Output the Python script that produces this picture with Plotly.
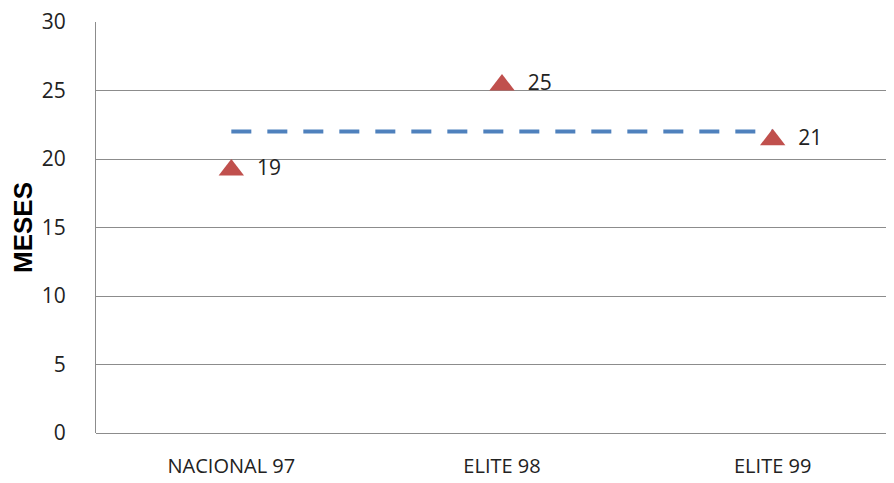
import plotly.graph_objects as go

categories = ["NACIONAL 97", "ELITE 98", "ELITE 99"]
values = [19.2, 25.4, 21.4]
labels = ["19", "25", "21"]
average = [22.0, 22.0, 22.0]
y_ticks = [0, 5, 10, 15, 20, 25, 30]

x_idx = list(range(len(categories)))

fig = go.Figure()
fig.add_trace(go.Scatter(
    x=x_idx, y=average, mode="lines",
    line=dict(color="#4F81BD", width=4, dash="20px,16px"),
    hoverinfo="skip", showlegend=False,
))
fig.add_trace(go.Scatter(
    x=x_idx, y=values, mode="markers+text",
    marker=dict(symbol="triangle-up", size=22, color="#C0504D"),
    text=["  " + t for t in labels], textposition="middle right",
    textfont=dict(family="Open Sans, sans-serif", size=21, color="#222222"),
    showlegend=False,
))

# page body has an 8px margin; the figure is offset accordingly
fig.update_layout(
    width=900, height=475,
    margin=dict(l=88, r=0, t=14, b=50),
    paper_bgcolor="white", plot_bgcolor="white",
    font=dict(family="Open Sans, sans-serif", color="#222222"),
)
fig.update_xaxes(
    range=[-0.5, 2.5], automargin=False,
    tickmode="array", tickvals=x_idx, ticktext=categories,
    tickfont=dict(family="Open Sans, sans-serif", size=20, color="#222222"),
    showgrid=False, zeroline=False, showline=False, ticks="",
    ticklabelstandoff=19, ticklabeloverflow="allow",
)
fig.update_yaxes(
    range=[0, 30], tickmode="array", tickvals=y_ticks, automargin=False,
    tickfont=dict(family="Open Sans, sans-serif", size=21, color="#222222"),
    showgrid=True, gridcolor="#8C8C8C", gridwidth=1,
    zeroline=True, zerolinecolor="#8C8C8C", zerolinewidth=1,
    showline=True, linecolor="#8C8C8C", linewidth=1, ticks="",
    ticklabelstandoff=25, ticklabeloverflow="allow",
    title=dict(text="<b>MESES</b>", font=dict(family="Liberation Sans, Arial, sans-serif", size=26, color="#000000"), standoff=12),
)

fig.write_html("out.html")
